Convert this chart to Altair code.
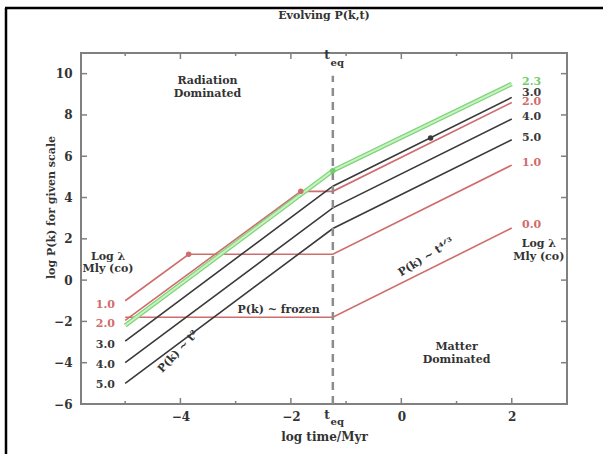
import altair as alt
import pandas as pd

# ---------------- data ----------------
T_EQ = -1.24
series_names = ["0.0", "1.0", "2.0", "2.3", "3.0", "4.0", "5.0"]
series_group = ["red", "red", "red", "green", "black", "black", "black"]
series_x = {
    "0.0": [-5.0, -1.24, 2.0],
    "1.0": [-5.0, -3.85, -1.24, 2.0],
    "2.0": [-5.0, -1.82, -1.24, 2.0],
    "2.3": [-5.0, -1.24, 2.0],
    "3.0": [-5.0, -1.24, 2.0],
    "4.0": [-5.0, -1.24, 2.0],
    "5.0": [-5.0, -1.24, 2.0],
}
series_y = {
    "0.0": [-1.8, -1.8, 2.52],
    "1.0": [-1.0, 1.25, 1.25, 5.57],
    "2.0": [-1.95, 4.3, 4.3, 8.6],
    "2.3": [-2.2, 5.3, 9.5],
    "3.0": [-2.95, 4.55, 8.85],
    "4.0": [-4.0, 3.5, 7.8],
    "5.0": [-5.0, 2.5, 6.8],
}

marker_x = [-3.85, -1.82, -1.24, 0.53]
marker_y = [1.25, 4.3, 5.3, 6.88]
marker_group = ["red", "red", "green", "black"]

left_labels = ["1.0", "2.0", "3.0", "4.0", "5.0"]
left_label_y = [-1.19, -2.11, -3.13, -4.1, -5.08]
left_label_group = ["red", "red", "black", "black", "black"]
right_labels = ["2.3", "3.0", "2.0", "4.0", "5.0", "1.0", "0.0"]
right_label_y = [9.61, 9.08, 8.64, 7.91, 6.89, 5.67, 2.66]
right_label_group = ["green", "black", "red", "black", "black", "red", "red"]

notes_text = ["Radiation", "Dominated", "Matter", "Dominated",
              "Log λ", "Mly (co)", "Log λ", "Mly (co)", "P(k) ~ frozen"]
notes_x = [-3.51, -3.51, 1.0, 1.0, -5.31, -5.31, 2.49, 2.49, -2.22]
notes_y = [9.66, 9.03, -3.22, -3.86, 1.1, 0.52, 1.73, 1.1, -1.43]

slope_text = ["P(k) ~ t²", "P(k) ~ t⁴ᐟ³"]
slope_x = [-4.04, 0.45]
slope_y = [-3.47, 1.1]
slope_angle = [313, 328]

teq_text = ["t", "eq", "t", "eq"]
teq_x = [-1.345, -1.16, -1.345, -1.16]
teq_y = [10.88, 10.53, -6.54, -6.88]
teq_size = [12, 10, 12, 10]

title_text = ["Evolving P(k,t)"]

x_major = [-4, -2, 0, 2]
x_minor = [-5, -3, -1, 1]
y_major = [-4, -2, 0, 2, 4, 6, 8, 10]

# ---------------- tables ----------------
rows = []
for name, grp in zip(series_names, series_group):
    for i, (xv, yv) in enumerate(zip(series_x[name], series_y[name])):
        rows.append({"series": name, "group": grp, "x": xv, "y": yv, "order": i})
lines_df = pd.DataFrame(rows)
markers_df = pd.DataFrame({"x": marker_x, "y": marker_y, "group": marker_group})
left_df = pd.DataFrame({"label": left_labels, "x": [-5.36] * len(left_labels),
                        "y": left_label_y, "group": left_label_group})
right_df = pd.DataFrame({"label": right_labels, "x": [2.36] * len(right_labels),
                         "y": right_label_y, "group": right_label_group})
labels_df = pd.concat([left_df, right_df], ignore_index=True)
notes_df = pd.DataFrame({"text": notes_text, "x": notes_x, "y": notes_y})
slope_df = pd.DataFrame({"text": slope_text, "x": slope_x, "y": slope_y, "angle": slope_angle})
teq_df = pd.DataFrame({"text": teq_text, "x": teq_x, "y": teq_y, "size": teq_size})
xmaj_df = pd.DataFrame({"x": x_major})
xmin_df = pd.DataFrame({"x": x_minor})
ymaj_df = pd.DataFrame({"y": y_major})

FONT = "DejaVu Serif"
W, H = 486, 351
xs = alt.Scale(domain=[-5.8, 3.0], nice=False, zero=False)
ys = alt.Scale(domain=[-6, 11], nice=False, zero=False)
x_axis = alt.Axis(values=x_major, title="log time/Myr", labelPadding=7, titlePadding=9,
                  titleFontSize=12)
y_axis = alt.Axis(values=[-6] + y_major, title="log P(k) for given scale",
                  labelPadding=9, titleAngle=270, titleAlign="center",
                  titleBaseline="bottom", titleX=-25, titleY=154)
color_scale = alt.Scale(domain=["red", "green", "black"],
                        range=["#cf6c6c", "#6fcf6a", "#3a3a3a"])
text_color_scale = alt.Scale(domain=["red", "green", "black"],
                             range=["#d04848", "#66cc66", "#333333"])


def X(f="x"):
    return alt.X(f"{f}:Q", scale=xs, axis=x_axis)


def Y(f="y"):
    return alt.Y(f"{f}:Q", scale=ys, axis=y_axis)


base_lines = alt.Chart(lines_df)

black_red = base_lines.transform_filter(alt.datum.group != "green").mark_line(strokeWidth=1.6).encode(
    x=X(), y=Y(),
    color=alt.Color("group:N", scale=color_scale, legend=None),
    detail="series:N",
    order="order:Q",
)
green_outer = base_lines.transform_filter(alt.datum.group == "green").mark_line(
    strokeWidth=4.5, color="#7fd47a").encode(x=X(), y=Y(), order="order:Q")
green_inner = base_lines.transform_filter(alt.datum.group == "green").mark_line(
    strokeWidth=2, color="#c9f2c2").encode(x=X(), y=Y(), order="order:Q")

teq_rule = alt.Chart(pd.DataFrame({"x": [T_EQ], "y": [-6.0], "y2": [9.9]})).mark_rule(
    color="#8c8c8c", strokeWidth=2.5, strokeDash=[8, 6]).encode(x=X(), y=Y(), y2="y2:Q")

markers = alt.Chart(markers_df).mark_point(filled=True, size=30, opacity=1).encode(
    x=X(), y=Y(), color=alt.Color("group:N", scale=color_scale, legend=None))

tick_style = dict(color="#808080", strokeWidth=1.5)
ticks = alt.layer(
    alt.Chart(xmaj_df).mark_rule(**tick_style).encode(x=X(), y=alt.value(H), y2=alt.value(H - 6)),
    alt.Chart(xmaj_df).mark_rule(**tick_style).encode(x=X(), y=alt.value(0), y2=alt.value(6)),
    alt.Chart(xmin_df).mark_rule(**tick_style).encode(x=X(), y=alt.value(H), y2=alt.value(H - 3)),
    alt.Chart(xmin_df).mark_rule(**tick_style).encode(x=X(), y=alt.value(0), y2=alt.value(3)),
    alt.Chart(ymaj_df).mark_rule(**tick_style).encode(y=Y(), x=alt.value(0), x2=alt.value(6)),
    alt.Chart(ymaj_df).mark_rule(**tick_style).encode(y=Y(), x=alt.value(W), x2=alt.value(W - 6)),
)

labels = alt.Chart(labels_df).mark_text(font=FONT, fontWeight="bold", fontSize=11).encode(
    x=X(), y=Y(), text="label:N",
    color=alt.Color("group:N", scale=text_color_scale, legend=None))
notes = alt.Chart(notes_df).mark_text(font=FONT, fontWeight="bold", fontSize=11, color="#333333").encode(
    x=X(), y=Y(), text="text:N")
slopes = alt.Chart(slope_df).mark_text(font=FONT, fontWeight="bold", fontSize=11, color="#333333").encode(
    x=X(), y=Y(), text="text:N", angle=alt.Angle("angle:Q", scale=None))
teq_labels = alt.Chart(teq_df).mark_text(font=FONT, fontWeight="bold", color="#333333").encode(
    x=X(), y=Y(), text="text:N", size=alt.Size("size:Q", scale=None, legend=None))

title_mark = alt.Chart(pd.DataFrame({"text": title_text})).mark_text(
    font=FONT, fontWeight="bold", fontSize=11, color="#333333").encode(
    x=alt.value(W / 2), y=alt.value(-37), text="text:N")

border = alt.layer(
    alt.Chart(pd.DataFrame({"k": [0]})).mark_rule(color="black", strokeWidth=2.5).encode(
        x=alt.value(-75), y=alt.value(-45), y2=alt.value(410)),
    alt.Chart(pd.DataFrame({"k": [0]})).mark_rule(color="black", strokeWidth=2.5).encode(
        x=alt.value(-76), x2=alt.value(530), y=alt.value(-45)),
)

chart = alt.layer(
    black_red, green_outer, green_inner, teq_rule, markers, ticks,
    labels, notes, slopes, teq_labels, title_mark, border,
).properties(
    width=W, height=H,
    autosize=alt.AutoSizeParams(type="none"),
    padding={"left": 81, "top": 53, "right": 36, "bottom": 50},
).configure_view(
    stroke="#808080", strokeWidth=2
).configure_axis(
    grid=False, domain=False, ticks=False,
    labelFont=FONT, labelFontWeight="bold", labelFontSize=12, labelColor="#333333",
    titleFont=FONT, titleFontWeight="bold", titleFontSize=11, titleColor="#333333",
)

chart.save("out.html", embed_options={"renderer": "svg", "actions": False})
